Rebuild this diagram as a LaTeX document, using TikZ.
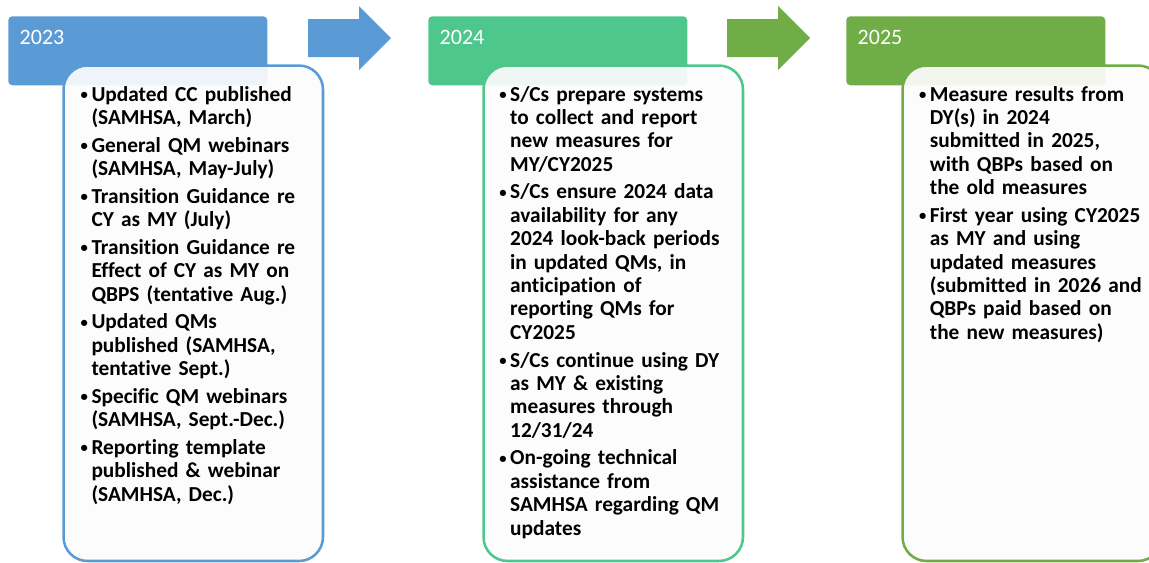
\documentclass[tikz,border=0pt]{standalone}
\usepackage{fontspec}
\setmainfont{Carlito}[Ligatures=NoCommon]
\usepackage{enumitem}
\usetikzlibrary{positioning}

\definecolor{yrblue}{HTML}{5B9BD5}
\definecolor{yrteal}{HTML}{4EC78D}
\definecolor{yrgreen}{HTML}{70AD47}

\setlist[itemize]{label=\raisebox{1.2pt}{\fontsize{11pt}{11pt}\selectfont\textbullet}, leftmargin=6.75pt, labelsep=2.6pt, topsep=0pt, partopsep=0pt, parsep=0pt, itemsep=3.2pt}
\frenchspacing

\begin{document}
\begin{tikzpicture}[
    x=0.75pt, y=-0.75pt,
    year/.style={fill=#1, rounded corners=3pt, minimum width=194.25pt, minimum height=51.75pt, anchor=north west, inner sep=0pt},
    yeartext/.style={inner sep=0pt, text=white, font=\fontsize{16.5pt}{20pt}\selectfont},
    panel/.style={draw=#1, line width=1.9pt, fill=white!99!black, fill opacity=0.92, rounded corners=18pt, minimum width=194.6pt, minimum height=371.6pt, anchor=north west, inner sep=0pt},
    notes/.style={inner sep=0pt, text width=175pt, align=left, font=\bfseries\fontsize{16pt}{17.55pt}\selectfont}
]
\path[use as bounding box, clip] (0,0) rectangle (1149,562);

% year headers
\node[year=yrblue]  (hd23) at (8,16) {};
\node[year=yrteal]  (hd24) at (428,16) {};
\node[year=yrgreen] (hd25) at (846,16) {};
\node[yeartext, below right=10.2pt and 8.6pt of hd23.north west] (yr23) {2023};
\node[yeartext, below right=10.2pt and 8.6pt of hd24.north west] (yr24) {2024};
\node[yeartext, below right=10.2pt and 8.6pt of hd25.north west] (yr25) {2025};

% block arrows between the years
\foreach \ax/\col in {308/yrblue, 727/yrgreen}
  \fill[\col] (\ax,19) -- (\ax+51,19) -- (\ax+51,6) -- (\ax+83,38) -- (\ax+51,70) -- (\ax+51,57) -- (\ax,57) -- cycle;

% panels
\node[panel=yrblue]  (pn23) at (62.25,64.25) {};
\node[panel=yrteal]  (pn24) at (482.25,64.25) {};
\node[panel=yrgreen] (pn25) at (901.25,64.25) {};

\node[notes, below right=9.9pt and 15pt of pn23.north west] (ls23) {%
\begin{itemize}
\item Updated CC published\\(SAMHSA, March)
\item General QM webinars\\(SAMHSA, May-July)
\item Transition Guidance re\\CY as MY (July)
\item Transition Guidance re\\Effect of CY as MY on\\QBPS (tentative Aug.)
\item Updated QMs\\published (SAMHSA,\\tentative Sept.)
\item Specific QM webinars\\(SAMHSA, Sept.-Dec.)
\item Reporting template\\published \& webinar\\(SAMHSA, Dec.)
\end{itemize}};

\node[notes, below right=9.9pt and 14pt of pn24.north west] (ls24) {%
\begin{itemize}
\item S/Cs prepare systems\\to collect and report\\new measures for\\MY/CY2025
\item S/Cs ensure 2024 data\\availability for any\\2024 look-back periods\\in updated QMs, in\\anticipation of\\reporting QMs for\\CY2025
\item S/Cs continue using DY\\as MY \& existing\\measures through\\12/31/24
\item On-going technical\\assistance from\\SAMHSA regarding QM\\updates
\end{itemize}};

\node[notes, below right=9.9pt and 14.5pt of pn25.north west] (ls25) {%
\begin{itemize}
\item Measure results from\\DY(s) in 2024\\submitted in 2025,\\with QBPs based on\\the old measures
\item First year using CY2025\\as MY and using\\updated measures\\(submitted in 2026 and\\QBPs paid based on\\the new measures)
\end{itemize}};
\end{tikzpicture}
\end{document}
